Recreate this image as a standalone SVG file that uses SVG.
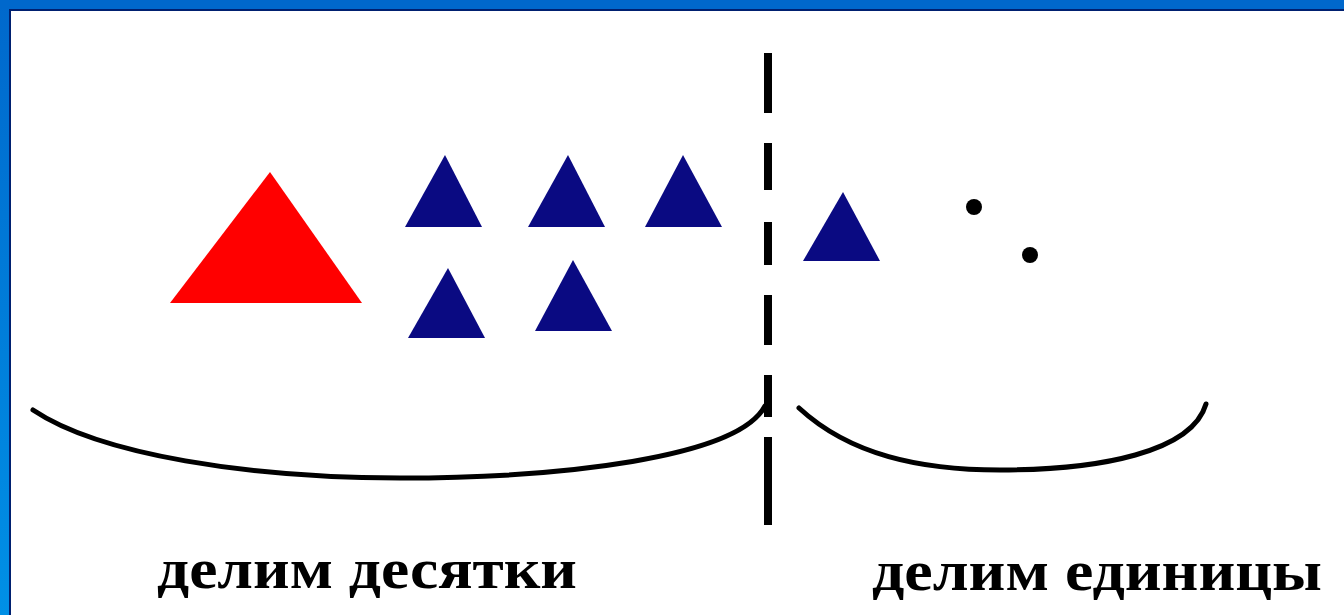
<svg xmlns="http://www.w3.org/2000/svg" width="1344" height="615" viewBox="0 0 1344 615">
<style>
.tri-b{fill:#0a0a82}
.tri-r{fill:#ff0000}
.dot{fill:#000}
.brace{fill:none;stroke:#000;stroke-width:5;stroke-linecap:round}
.dash{stroke:#000;stroke-width:8}
.lbl{font-family:"Liberation Serif","Times New Roman",serif;font-weight:bold;font-size:56px;fill:#000}
</style>
<defs>
<linearGradient id="lg" x1="0" y1="0" x2="0" y2="1">
<stop offset="0" stop-color="#0068cc"/>
<stop offset="1" stop-color="#0090e6"/>
</linearGradient>
</defs>
<rect width="1344" height="615" fill="#fff"/>
<g id="frame">
<rect x="0" y="0" width="9" height="615" fill="url(#lg)"/>
<rect x="0" y="0" width="1344" height="9" fill="#0068cc"/>
<rect x="9" y="9" width="1335" height="2" fill="#002070"/>
<rect x="9" y="9" width="2" height="606" fill="#002070"/>
</g>
<g id="red-triangle"><polygon class="tri-r" points="270,172 170,303 362,303"/></g>
<g id="tri1"><polygon class="tri-b" points="445,155 405,227 482,227"/></g>
<g id="tri2"><polygon class="tri-b" points="568,155 528,227 605,227"/></g>
<g id="tri3"><polygon class="tri-b" points="683,155 645,227 722,227"/></g>
<g id="tri4"><polygon class="tri-b" points="448,268 408,338 485,338"/></g>
<g id="tri5"><polygon class="tri-b" points="573,260 535,331 612,331"/></g>
<g id="tri6"><polygon class="tri-b" points="843,192 803,261 880,261"/></g>
<g id="dot1"><circle class="dot" cx="974" cy="207" r="8"/></g>
<g id="dot2"><circle class="dot" cx="1030" cy="255" r="8"/></g>
<g id="connectors">
<line class="dash" x1="768" y1="53" x2="768" y2="113"/>
<line class="dash" x1="768" y1="143" x2="768" y2="190"/>
<line class="dash" x1="768" y1="222" x2="768" y2="265"/>
<line class="dash" x1="768" y1="295" x2="768" y2="345"/>
<line class="dash" x1="768" y1="375" x2="768" y2="417"/>
<line class="dash" x1="768" y1="437" x2="768" y2="525"/>
<path class="brace" d="M33,410 C100,455 250,478 400,478 C560,478 738,458 765,406"/>
<path class="brace" d="M799,408 C850,455 920,470 1000,470 C1100,470 1192,452 1206,404"/>
</g>
<text class="lbl" x="157" y="588" textLength="420" lengthAdjust="spacingAndGlyphs">делим десятки</text>
<text class="lbl" x="872" y="590" textLength="450" lengthAdjust="spacingAndGlyphs">делим единицы</text>
</svg>
